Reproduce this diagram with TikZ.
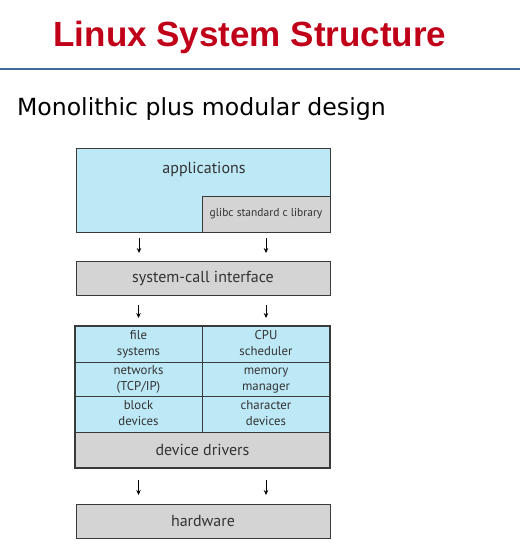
\documentclass[tikz,border=0pt]{standalone}
\usepackage{fontspec}
\usetikzlibrary{positioning, arrows.meta}
\newfontfamily\titlefont{Liberation Sans}
\newfontfamily\subfont{DejaVu Sans}
\newfontfamily\boxfont{PT Sans}
\definecolor{titlered}{HTML}{C00018}
\definecolor{ruleblue}{HTML}{3E6D9C}
\definecolor{lightblue}{HTML}{BDE8F6}
\definecolor{boxgray}{HTML}{D4D4D4}
\definecolor{edgegray}{HTML}{3A3A3A}
\definecolor{inkgray}{HTML}{333333}
\newcommand{\twolines}[2]{\strut#1\\\strut#2}

\begin{document}
\begin{tikzpicture}[x=1pt, y=-1pt,
    every node/.style={inner sep=0pt, outer sep=0pt},
    bluebox/.style={draw=edgegray, fill=lightblue, line width=0.9pt},
    graybox/.style={draw=edgegray, fill=boxgray, line width=0.9pt},
    bigtext/.style={text=inkgray, font=\boxfont\fontsize{16}{19}\selectfont},
    celltext/.style={text=inkgray, align=center, font=\boxfont\fontsize{12.8}{16}\selectfont},
    arr/.style={-{Stealth[length=5pt, width=4.5pt]}, line width=0.8pt, black}]
        \useasboundingbox (0,0) rectangle (520,557);
        % heading
        \node [anchor=base, text=titlered, font=\titlefont\bfseries\fontsize{35}{40}\selectfont] (title) at (250,46.5) {Linux System Structure};
        \coordinate (ruleL) at (0,69.3);
        \coordinate (ruleR) at (520,69.3);
        \draw [ruleblue, line width=2pt] (ruleL) -- (ruleR);
        \node [anchor=base west, font=\subfont\fontsize{23.6}{28}\selectfont] (sub) at (17,115.5) {Monolithic plus modular design};
        % user space
        \node [bluebox, minimum width=254pt, minimum height=84pt] (apps) at (203,190) {};
        \node [bigtext] (appslabel) at (204,169) {applications};
        \node [graybox, minimum width=128pt, minimum height=36pt, text=inkgray, font=\boxfont\fontsize{11.5}{13}\selectfont] (glibc) at (266,214) {glibc standard c library};
        \node [graybox, bigtext, minimum width=254pt, minimum height=34pt] (sci) at (203,278) {system-call interface};
        % kernel
        \node [bluebox, celltext, minimum width=127pt, minimum height=36pt] (fs) at (138.5,344) {\twolines{file}{systems}};
        \node [bluebox, celltext, minimum width=128pt, minimum height=36pt] (cpu) at (266,344) {\twolines{CPU}{scheduler}};
        \node [bluebox, celltext, minimum width=127pt, minimum height=34pt] (net) at (138.5,379) {\twolines{networks}{(TCP/IP)}};
        \node [bluebox, celltext, minimum width=128pt, minimum height=34pt] (mem) at (266,379) {\twolines{memory}{manager}};
        \node [bluebox, celltext, minimum width=127pt, minimum height=36pt] (blk) at (138.5,414) {\twolines{block}{devices}};
        \node [bluebox, celltext, minimum width=128pt, minimum height=36pt] (chr) at (266,414) {\twolines{character}{devices}};
        \node [graybox, bigtext, minimum width=255pt, minimum height=36pt] (drv) at (202.5,450) {device drivers};
        \draw [edgegray, line width=1.2pt] (fs.north west) rectangle (drv.south east);
        \node [graybox, bigtext, minimum width=254pt, minimum height=34pt] (hw) at (203,521) {hardware};
        % arrows
        \draw [arr, shorten <=6pt, shorten >=8pt] ([xshift=-64pt]apps.south) -- ([xshift=-64pt]sci.north);
        \draw [arr, shorten <=6pt, shorten >=8pt] (glibc.south) -- (glibc.south |- sci.north);
        \draw [arr, shorten <=10pt, shorten >=8pt] (sci.south -| fs) -- (fs.north);
        \draw [arr, shorten <=10pt, shorten >=8pt] (sci.south -| cpu) -- (cpu.north);
        \draw [arr, shorten <=12pt, shorten >=9pt] (drv.south -| fs) -- (hw.north -| fs);
        \draw [arr, shorten <=12pt, shorten >=9pt] (drv.south -| cpu) -- (hw.north -| cpu);
\end{tikzpicture}
\end{document}
